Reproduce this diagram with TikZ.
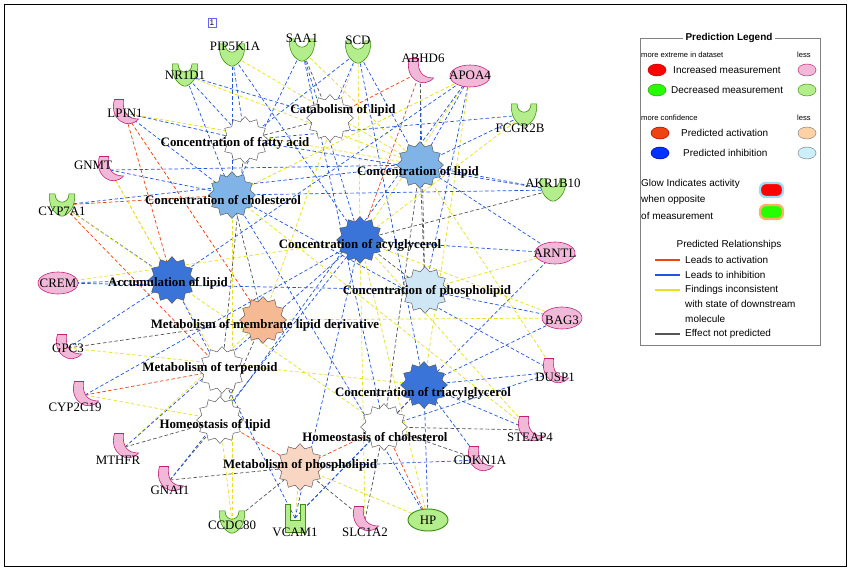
\documentclass[tikz,border=0pt]{standalone}
\usepackage{fontspec}
\setmainfont{Liberation Serif}
\setsansfont{Liberation Sans}
\usetikzlibrary{shapes.geometric,arrows.meta,calc}
\definecolor{pk}{HTML}{F2B8D8}\definecolor{pkd}{HTML}{C0207A}
\definecolor{gr}{HTML}{B4EE8C}\definecolor{grd}{HTML}{3F8F10}
\definecolor{eb}{HTML}{2255DD}\definecolor{ey}{HTML}{E8E020}\definecolor{eo}{HTML}{EE4411}\definecolor{eg}{HTML}{555555}
\definecolor{gbd}{HTML}{3A74D8}\definecolor{gbl}{HTML}{80B4E6}\definecolor{gbv}{HTML}{CFE6F4}\definecolor{gor}{HTML}{F5B994}\definecolor{gol}{HTML}{F9D5C4}
\begin{document}
\begin{tikzpicture}[x=0.03cm,y=-0.03cm,
 gear/.style={star,star points=12,star point ratio=1.25,minimum size=40,inner sep=0,draw=gray!70!black,line width=0.4pt},
 flab/.style={font=\bfseries\fontsize{11}{11}\selectfont,inner sep=0},
 glab/.style={font=\fontsize{11}{11}\selectfont,inner sep=0},
 e/.style={dash pattern=on 3pt off 2pt,line width=0.6pt,-{Stealth[length=6pt,width=5pt]},shorten >=4pt},
 eB/.style={e,draw=eb}, eY/.style={e,draw=ey}, eO/.style={e,draw=eo}, eG/.style={e,draw=eg},
 lg/.style={font=\sffamily\fontsize{8.5}{9}\selectfont,inner sep=0,anchor=west},
 ls/.style={font=\sffamily\fontsize{6.5}{7}\selectfont,inner sep=0,anchor=west},
 pkc/.style={fill=pk,draw=pkd,line width=0.5pt},
 grc/.style={fill=gr,draw=grd,line width=0.5pt}]
\useasboundingbox (0,0) rectangle (850,570);
\fill[white] (0,0) rectangle (850,570);
\draw[line width=0.8pt] (4,4) rectangle (846,566);
% gene coordinates
\coordinate (pip) at (232,55);\coordinate (saa) at (302,50);\coordinate (scd) at (358,52);
\coordinate (abhd) at (420,72);\coordinate (apoa) at (470,76);\coordinate (nr1d) at (185,75);
\coordinate (fcgr) at (524,115);\coordinate (lpin) at (125,113);\coordinate (gnmt) at (110,170);
\coordinate (akr) at (553,190);\coordinate (cyp7) at (62,205);\coordinate (arntl) at (555,253);
\coordinate (crem) at (58,283);\coordinate (bag) at (562,318);\coordinate (gpc) at (68,348);
\coordinate (dusp) at (555,372);\coordinate (cyp2) at (85,395);\coordinate (steap) at (530,430);
\coordinate (mthfr) at (125,447);\coordinate (cdkn) at (480,460);\coordinate (gnai) at (170,480);
\coordinate (ccdc) at (232,522);\coordinate (vcam) at (295,518);\coordinate (slc) at (365,520);
\coordinate (hp) at (428,520);
% function gears (positions)
\coordinate (cat) at (330,118);\coordinate (cfa) at (245,140);\coordinate (cl) at (420,165);
\coordinate (cch) at (232,195);\coordinate (cag) at (360,240);\coordinate (acc) at (172,280);
\coordinate (cph) at (425,290);\coordinate (mml) at (263,320);\coordinate (mt) at (222,370);
\coordinate (ctg) at (424,385);\coordinate (hl) at (220,420);\coordinate (hc) at (384,427);
\coordinate (mp) at (300,467);
% edges
\foreach \s/\t/\c in {pip/cfa/eB,pip/cl/eY,pip/cag/eB,pip/cch/eB,saa/cat/eG,saa/cl/eY,saa/cag/eB,saa/cch/eB,saa/hc/eB,
 scd/cat/eB,scd/cfa/eB,scd/cl/eB,scd/cag/eY,scd/ctg/eB,scd/mml/eY,abhd/cat/eO,abhd/cl/eB,abhd/cag/eO,abhd/cph/eG,
 apoa/cl/eB,apoa/cch/eY,apoa/cag/eY,apoa/cph/eB,apoa/ctg/eY,apoa/hl/eB,apoa/acc/eB,nr1d/cfa/eB,nr1d/cch/eB,nr1d/cat/eB,nr1d/cl/eY,
 fcgr/cl/eB,fcgr/cag/eY,fcgr/cfa/eB,lpin/cfa/eB,lpin/cch/eB,lpin/cl/eY,lpin/acc/eO,lpin/mml/eO,gnmt/cch/eB,gnmt/cl/eB,gnmt/acc/eY,gnmt/mt/eY,
 akr/cl/eB,akr/cch/eB,akr/cag/eG,akr/cfa/eB,cyp7/cch/eO,cyp7/acc/eB,cyp7/mt/eO,cyp7/hc/eY,cyp7/cl/eB,arntl/cag/eB,arntl/cl/eB,arntl/cph/eY,arntl/ctg/eB,
 crem/acc/eB,crem/cag/eY,crem/cph/eB,bag/cph/eB,bag/ctg/eB,bag/cag/eY,bag/mml/eY,gpc/mml/eG,gpc/acc/eB,gpc/ctg/eY,dusp/ctg/eB,dusp/cl/eY,dusp/hc/eB,dusp/cch/eB,
 cyp2/mt/eO,cyp2/hl/eY,cyp2/cag/eB,steap/ctg/eB,steap/hc/eG,steap/cag/eY,steap/cch/eY,mthfr/hl/eG,mthfr/mml/eY,mthfr/cag/eB,cdkn/hc/eG,cdkn/ctg/eB,cdkn/mp/eB,
 gnai/hl/eG,gnai/mp/eG,gnai/cag/eB,ccdc/hl/eY,ccdc/mp/eG,ccdc/cch/eY,vcam/mp/eY,vcam/cag/eB,vcam/hc/eB,vcam/acc/eB,vcam/ctg/eB,slc/mp/eG,slc/hc/eG,slc/cag/eY,
 hp/ctg/eB,hp/cag/eY,hp/mp/eY,hp/hc/eO,hp/cch/eB,
 cag/cph/eG,cl/cph/eG,mml/hl/eG,mt/hl/eG,cch/mml/eG,cfa/mt/eG,cat/cfa/eG,cl/hc/eG,ctg/hc/eG,mp/hl/eO,hc/mp/eO}
 {\draw[\c] (\s) -- (\t);}
% gears
\node[gear,fill=white] (ncat) at (cat) {};
\node[gear,fill=white] (ncfa) at (cfa) {};
\node[gear,fill=gbl] (ncl) at (cl) {};
\node[gear,fill=gbl] (ncch) at (cch) {};
\node[gear,fill=gbd] (ncag) at (cag) {};
\node[gear,fill=gbd] (nacc) at (acc) {};
\node[gear,fill=gbv] (ncph) at (cph) {};
\node[gear,fill=gor] (nmml) at (mml) {};
\node[gear,fill=white] (nmt) at (mt) {};
\node[gear,fill=gbd] (nctg) at (ctg) {};
\node[gear,fill=white] (nhl) at (hl) {};
\node[gear,fill=white] (nhc) at (hc) {};
\node[gear,fill=gol] (nmp) at (mp) {};
% function labels
\node[flab] (lcat) at (343,110) {Catabolism of lipid};
\node[flab] (lcfa) at (235,143) {Concentration of fatty acid};
\node[flab] (lcl) at (418,172) {Concentration of lipid};
\node[flab] (lcch) at (223,200) {Concentration of cholesterol};
\node[flab] (lcag) at (360,245) {Concentration of acylglycerol};
\node[flab] (lacc) at (168,283) {Accumulation of lipid};
\node[flab] (lcph) at (427,291) {Concentration of phospholipid};
\node[flab] (lmml) at (265,325) {Metabolism of membrane lipid derivative};
\node[flab] (lmt) at (210,368) {Metabolism of terpenoid};
\node[flab] (lctg) at (423,393) {Concentration of triacylglycerol};
\node[flab] (lhl) at (215,425) {Homeostasis of lipid};
\node[flab] (lhc) at (375,437) {Homeostasis of cholesterol};
\node[flab] (lmp) at (300,465) {Metabolism of phospholipid};
% gene shapes
\foreach \p in {lpin,gnmt,gpc,dusp,cyp2,steap,mthfr,cdkn,gnai,slc,abhd}
 {\draw[pkc,shift={(\p)},scale=1.5] (-7,-9) .. controls (-11,4) and (2,12) .. (9,4) .. controls (2,4) and (-2,0) .. (-1,-9) -- cycle;}
\foreach \p in {nr1d,cyp7,akr,ccdc,fcgr,saa,pip,scd}
 {\draw[grc,shift={(\p)},scale=1.4] (-9,-8) .. controls (-10,4) and (-2,8) .. (0,8) .. controls (2,8) and (10,4) .. (9,-8) -- (5,-8) .. controls (5,0) and (-5,0) .. (-5,-8) -- cycle;}
\draw[grc,line width=0.8pt] ($(vcam)+(-10,-14)$) -- ++(0,28) -- ++(20,0) -- ++(0,-28) -- ++(-5,0) -- ++(0,16) -- ++(-10,0) -- ++(0,-16) -- cycle;
\foreach \p in {apoa,arntl,crem,bag} {\draw[pkc] (\p) ellipse (20 and 11);}
\draw[grc,line width=0.8pt] (hp) ellipse (20 and 11);
% gene labels
\node[glab] at (235,46) {PIP5K1A};
\node[draw=blue!60,fill=white,font=\sffamily\fontsize{7}{7}\selectfont,inner sep=1.5pt] at (212,23) {1};
\node[glab] at (302,38) {SAA1};
\node[glab] at (358,40) {SCD};
\node[glab] at (423,58) {ABHD6};
\node[glab] at (470,75) {APOA4};
\node[glab] at (185,75) {NR1D1};
\node[glab] at (520,128) {FCGR2B};
\node[glab] at (125,113) {LPIN1};
\node[glab] at (93,165) {GNMT};
\node[glab] at (553,183) {AKR1B10};
\node[glab] at (62,211) {CYP7A1};
\node[glab] at (555,253) {ARNTL};
\node[glab] at (58,283) {CREM};
\node[glab] at (562,320) {BAG3};
\node[glab] at (68,348) {GPC3};
\node[glab] at (555,377) {DUSP1};
\node[glab] at (75,407) {CYP2C19};
\node[glab] at (530,437) {STEAP4};
\node[glab] at (118,460) {MTHFR};
\node[glab] at (480,460) {CDKN1A};
\node[glab] at (170,490) {GNAI1};
\node[glab] at (232,525) {CCDC80};
\node[glab] at (295,532) {VCAM1};
\node[glab] at (365,532) {SLC1A2};
\node[glab] at (428,520) {HP};
% legend
\draw[gray,line width=0.6pt] (640,38) rectangle (820,345);
\node[font=\sffamily\bfseries\fontsize{8.5}{8}\selectfont,fill=white,inner sep=2pt] at (729,38) {Prediction Legend};
\node[ls] at (641,55) {more extreme in dataset};\node[ls] at (797,55) {less};
\draw[fill=red,draw=red!70!black] (657,70) ellipse (9 and 6);\node[lg] at (673,70) {Increased measurement};\draw[fill=pk,draw=pkd] (807,70) ellipse (9 and 6);
\draw[fill=green!80!lime,draw=grd] (657,90) ellipse (9 and 6);\node[lg] at (671,90) {Decreased measurement};\draw[fill=gr,draw=grd] (807,90) ellipse (9 and 6);
\node[ls] at (641,118) {more confidence};\node[ls] at (797,118) {less};
\draw[fill=eo,draw=red!60!black] (660,133) ellipse (9 and 6);\node[lg] at (681,133) {Predicted activation};\draw[fill=orange!35!white,draw=gray] (807,133) ellipse (9 and 6);
\draw[fill=blue!80!cyan,draw=blue!60!black] (660,153) ellipse (9 and 6);\node[lg] at (683,153) {Predicted inhibition};\draw[fill=cyan!20!white,draw=gray] (807,153) ellipse (9 and 6);
\node[lg] at (641,184) {Glow Indicates activity};\node[lg] at (641,200) {when opposite};\node[lg] at (641,216) {of measurement};
\draw[line width=2pt,cyan!40,fill=red,rounded corners=5pt] (760,183) rectangle (783,197);
\draw[line width=2pt,orange!60,fill=green!80!lime,rounded corners=5pt] (760,205) rectangle (783,219);
\node[font=\sffamily\fontsize{8.5}{8}\selectfont] at (729,245) {Predicted Relationships};
\draw[line width=1.5pt,eo] (655,260) -- (680,260);\node[lg] at (685,260) {Leads to activation};
\draw[line width=1.5pt,eb] (655,275) -- (680,275);\node[lg] at (685,275) {Leads to inhibition};
\draw[line width=1.5pt,ey] (655,290) -- (680,290);\node[lg] at (685,290) {Findings inconsistent};
\node[lg] at (685,304) {with state of downstream};\node[lg] at (685,319) {molecule};
\draw[line width=1.5pt,eg] (655,334) -- (680,334);\node[lg] at (685,334) {Effect not predicted};
\end{tikzpicture}
\end{document}
